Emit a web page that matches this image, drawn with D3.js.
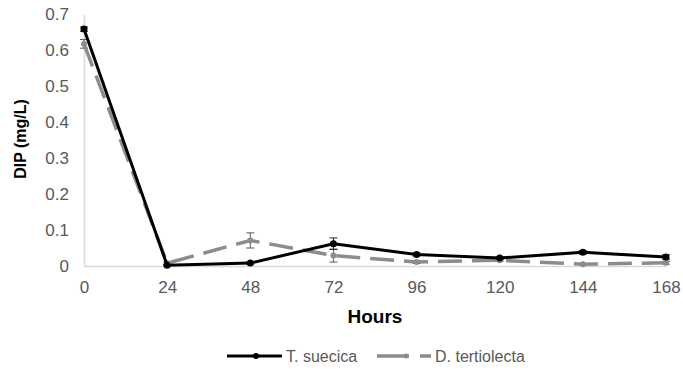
<!DOCTYPE html>
<html>
<head>
<meta charset="utf-8">
<script src="https://cdn.jsdelivr.net/npm/d3@7"></script>
<style>
  html, body { margin: 0; padding: 0; background: #fff; }
  svg { display: block; font-family: "Liberation Sans", Arial, sans-serif; }
</style>
</head>
<body>
<svg id="chart" width="683" height="374"></svg>
<script>
// Sampling times (hours)
const hours = [0, 24, 48, 72, 96, 120, 144, 168];
const xTicks = [0, 24, 48, 72, 96, 120, 144, 168];
const yTicks = [0, 0.1, 0.2, 0.3, 0.4, 0.5, 0.6, 0.7];

// Dissolved inorganic phosphorus (mg/L)
const tSuecica = [0.658, 0.002, 0.008, 0.062, 0.032, 0.022, 0.038, 0.025];
const tSuecicaErr = [0.006, 0.002, 0.003, 0.016, 0.004, 0.004, 0.005, 0.006];
const dTertiolecta = [0.617, 0.008, 0.071, 0.029, 0.011, 0.016, 0.005, 0.009];
const dTertiolectaErr = [0.012, 0.003, 0.021, 0.018, 0.004, 0.003, 0.002, 0.004];

const seriesNames = ["T. suecica", "D. tertiolecta"];

const svg = d3.select("#chart");
const x = d3.scaleLinear().domain([0, 168]).range([84, 666]);
const y = d3.scaleLinear().domain([0, 0.7]).range([266, 14]);

const axisColor = "#d9d9d9";
const labelColor = "#595959";

// Axes
const xAxis = svg.append("g").attr("transform", `translate(0,${y(0)})`)
  .call(d3.axisBottom(x).tickValues(xTicks).tickSize(0).tickPadding(15).tickFormat(d3.format("d")));
xAxis.select(".domain").attr("stroke", axisColor).attr("stroke-width", 1.5);
xAxis.selectAll("text").attr("fill", labelColor).attr("font-size", 17)
  .attr("font-family", "Liberation Sans, Arial, sans-serif");

const yAxis = svg.append("g").attr("transform", `translate(${x(0)},0)`)
  .call(d3.axisLeft(y).tickValues(yTicks).tickSize(0).tickPadding(15)
    .tickFormat(d => d === 0 ? "0" : d3.format(".1f")(d)));
yAxis.select(".domain").attr("stroke", axisColor).attr("stroke-width", 1.5);
yAxis.selectAll("text").attr("fill", labelColor).attr("font-size", 17)
  .attr("font-family", "Liberation Sans, Arial, sans-serif");

// Axis titles
svg.append("text").attr("x", 375).attr("y", 323).attr("text-anchor", "middle")
  .attr("font-size", 19).attr("font-weight", "bold").attr("fill", "#000").text("Hours");
svg.append("text").attr("transform", "translate(26,139) rotate(-90)")
  .attr("text-anchor", "middle").attr("font-size", 16).attr("font-weight", "bold")
  .attr("fill", "#000").text("DIP (mg/L)");

const line = d3.line().x(d => x(d[0])).y(d => y(d[1]));

function drawErrors(vals, errs, color) {
  const g = svg.append("g");
  hours.forEach((h, i) => {
    const top = y(vals[i] + errs[i]), bot = y(Math.max(0, vals[i] - errs[i]));
    g.append("line").attr("x1", x(h)).attr("x2", x(h)).attr("y1", top).attr("y2", bot)
      .attr("stroke", color).attr("stroke-width", 1);
    [top, bot].forEach(yy => g.append("line").attr("x1", x(h) - 4).attr("x2", x(h) + 4)
      .attr("y1", yy).attr("y2", yy).attr("stroke", color).attr("stroke-width", 1));
  });
}

// D. tertiolecta (grey dashed)
const dtData = hours.map((h, i) => [h, dTertiolecta[i]]);
drawErrors(dTertiolecta, dTertiolectaErr, "#595959");
svg.append("path").datum(dtData).attr("d", line).attr("fill", "none")
  .attr("stroke", "#8c8c8c").attr("stroke-width", 3.5).attr("stroke-dasharray", "24,10");
svg.append("g").selectAll("circle").data(dtData).join("circle")
  .attr("cx", d => x(d[0])).attr("cy", d => y(d[1])).attr("r", 3).attr("fill", "#8c8c8c");

// T. suecica (black solid)
const tsData = hours.map((h, i) => [h, tSuecica[i]]);
drawErrors(tSuecica, tSuecicaErr, "#262626");
svg.append("path").datum(tsData).attr("d", line).attr("fill", "none")
  .attr("stroke", "#000").attr("stroke-width", 3);
svg.append("g").selectAll("circle").data(tsData).join("circle")
  .attr("cx", d => x(d[0])).attr("cy", d => y(d[1])).attr("r", 3.5).attr("fill", "#000");

// Legend
const lg = svg.append("g").attr("transform", "translate(0,356)");
lg.append("line").attr("x1", 227).attr("x2", 282).attr("y1", 0).attr("y2", 0)
  .attr("stroke", "#000").attr("stroke-width", 3);
lg.append("circle").attr("cx", 256).attr("cy", 0).attr("r", 3).attr("fill", "#000");
lg.append("text").attr("x", 286).attr("y", 6).attr("font-size", 16).attr("fill", labelColor).text(seriesNames[0]);
lg.append("line").attr("x1", 377).attr("x2", 431).attr("y1", 0).attr("y2", 0)
  .attr("stroke", "#8c8c8c").attr("stroke-width", 3.5).attr("stroke-dasharray", "32,11,11");
lg.append("circle").attr("cx", 406).attr("cy", 0).attr("r", 2.5).attr("fill", "#8c8c8c");
lg.append("text").attr("x", 435).attr("y", 6).attr("font-size", 16).attr("fill", labelColor).text(seriesNames[1]);
</script>
</body>
</html>
